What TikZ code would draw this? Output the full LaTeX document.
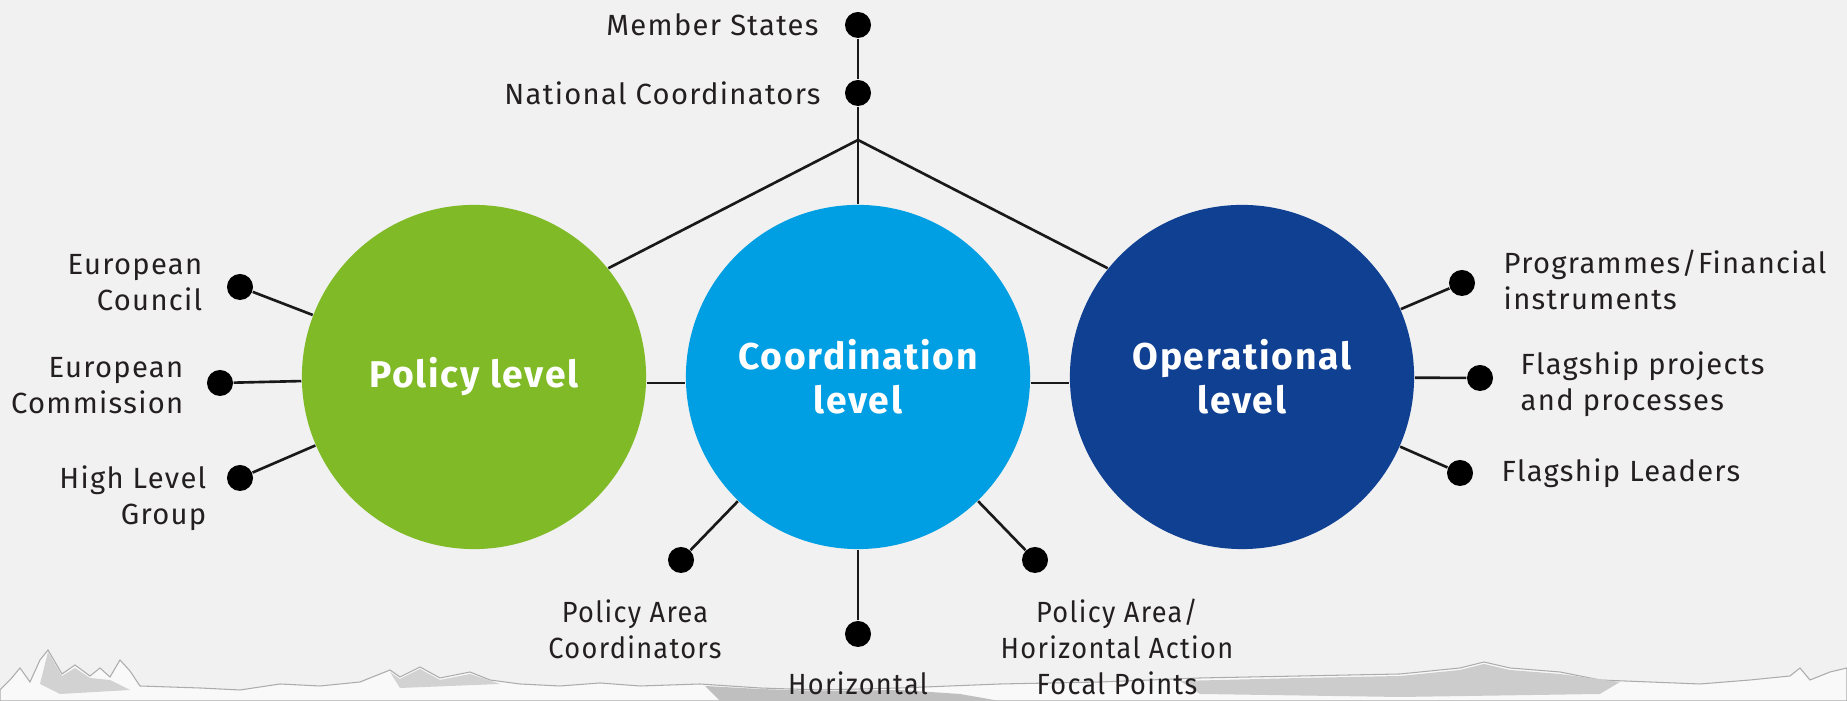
\documentclass[tikz,border=0pt]{standalone}
\usepackage{fontspec}
\setmainfont{Fira Sans}[LetterSpace=4.5]
\newfontfamily\narrowfont{Fira Sans}[FakeStretch=0.93, LetterSpace=4.5]
\usetikzlibrary{positioning}
\definecolor{bgcol}{RGB}{241,241,241}
\definecolor{policygreen}{RGB}{128,186,39}
\definecolor{coordblue}{RGB}{0,159,227}
\definecolor{operblue}{RGB}{16,64,146}
\definecolor{labeltext}{RGB}{35,31,32}

\begin{document}
\begin{tikzpicture}[x=0.01cm, y=-0.01cm,
    lvlcircle/.style={circle, minimum size=3.44cm, inner sep=0pt, text=white, align=center,
      font=\bfseries\fontsize{10.6}{12.5}\selectfont},
    bullet/.style={circle, fill=black, minimum size=0.26cm, inner sep=0pt},
    lbl/.style={text=labeltext, inner sep=0pt, font=\fontsize{8.3}{10.2}\selectfont},
    nlbl/.style={lbl, align=center, font=\narrowfont\fontsize{8.3}{10.2}\selectfont},
    conn/.style={line width=0.75pt, draw=black!90}]
  \useasboundingbox (0,0) rectangle (1847,701);
  \fill[bgcol] (0,0) rectangle (1847,701);
  % torn paper strip at the bottom
  \fill[white!55!bgcol, draw=gray!65, line width=0.3pt] (0,690) -- (10,680) -- (20,668) -- (30,682)
    -- (40,660) -- (48,650) -- (55,662) -- (62,674) -- (75,665) -- (90,676) -- (100,668) -- (110,677)
    -- (120,660) -- (130,671) -- (140,686) -- (200,688) -- (240,690) -- (280,684) -- (320,686)
    -- (360,682) -- (390,670) -- (400,677) -- (420,667) -- (440,678) -- (470,672) -- (490,680)
    -- (520,684) -- (560,686) -- (600,683) -- (640,686) -- (700,684) -- (760,688) -- (820,690)
    -- (900,688) -- (1000,684) -- (1100,682) -- (1200,678) -- (1300,676) -- (1400,674) -- (1460,668)
    -- (1484,662) -- (1510,668) -- (1560,672) -- (1600,680) -- (1700,684) -- (1750,680) -- (1790,676)
    -- (1800,668) -- (1810,680) -- (1830,672) -- (1847,668) -- (1847,701) -- (0,701) -- cycle;
  \fill[gray!35] (48,652) -- (55,664) -- (62,676) -- (75,668) -- (90,678) -- (110,680) -- (130,690)
    -- (60,694) -- (40,684) -- cycle;
  \fill[gray!35] (390,672) -- (400,679) -- (420,669) -- (440,680) -- (470,674) -- (500,684)
    -- (400,688) -- cycle;
  \fill[gray!50] (705,686) -- (760,689) -- (820,691) -- (900,690) -- (960,694) -- (1000,701)
    -- (720,701) -- cycle;
  \fill[gray!40] (1180,681) -- (1300,678) -- (1400,676) -- (1460,670) -- (1484,664) -- (1510,670)
    -- (1560,674) -- (1620,682) -- (1600,694) -- (1400,697) -- (1200,694) -- cycle;

  \node[lvlcircle, fill=policygreen] (pol) at (474,377) {Policy level};
  \node[lvlcircle, fill=coordblue] (coo) at (858,377) {Coordination\\level};
  \node[lvlcircle, fill=operblue] (ope) at (1242,377) {Operational\\level};

  \node[bullet] (ms) at (858,25) {};
  \node[bullet] (nc) at (858,93) {};
  \coordinate (jn) at (858,140);
  \node[lbl, left=0.25cm of ms] (mstxt) {Member States};
  \node[lbl, left=0.23cm of nc] (nctxt) {National Coordinators};

  \node[bullet] (ec) at (240,287) {};
  \node[bullet] (com) at (220,383) {};
  \node[bullet] (hlg) at (240,478) {};
  \node[lbl, align=right, anchor=east] (ectxt) at (203,283) {European\\Council};
  \node[lbl, align=right, anchor=east] (comtxt) at (184,386) {European\\Commission};
  \node[lbl, align=right, anchor=east] (hlgtxt) at (207,498) {High Level\\Group};

  \node[bullet] (pfi) at (1462,283) {};
  \node[bullet] (fpp) at (1480,378) {};
  \node[bullet] (fl) at (1460,473) {};
  \node[lbl, align=left, anchor=west] (pfitxt) at (1503,280) {Programmes/Financial\\instruments};
  \node[lbl, align=left, anchor=west] (fpptxt) at (1520,384) {Flagship projects\\and processes};
  \node[lbl, anchor=west] (fltxt) at (1501,473) {Flagship Leaders};

  \node[bullet] (pac) at (681,560) {};
  \node[bullet] (hz) at (858,634) {};
  \node[bullet] (pah) at (1035,560) {};
  \node[nlbl] (pactxt) at (635,629) {Policy Area\\Coordinators};
  \node[nlbl] (hztxt) at (858,683) {Horizontal};
  \node[nlbl] (pahtxt) at (1117,647) {Policy Area/\\Horizontal Action\\Focal Points};

  \draw[conn] (ms) -- (nc) -- (jn);
  \draw[conn] (jn) -- (coo);
  \draw[conn] (jn) -- (pol.39);
  \draw[conn] (jn) -- (ope.141);
  \draw[conn] (pol.-2) -- (coo.182);
  \draw[conn] (coo.-2) -- (ope.182);
  \draw[conn] (ec) -- (pol);
  \draw[conn] (com) -- (pol);
  \draw[conn] (hlg) -- (pol);
  \draw[conn] (pfi) -- (ope);
  \draw[conn] (fpp) -- (ope);
  \draw[conn] (fl) -- (ope);
  \draw[conn] (pac) -- (coo);
  \draw[conn] (hz) -- (coo);
  \draw[conn] (pah) -- (coo);
\end{tikzpicture}
\end{document}
